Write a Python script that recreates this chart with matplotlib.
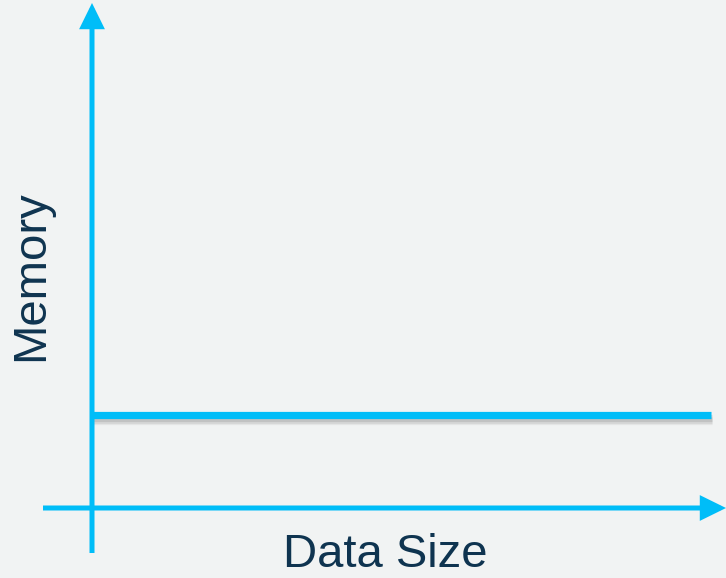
import matplotlib.pyplot as plt
import matplotlib.patheffects as pe

# constant memory regardless of data size
data_size = [0, 10]
memory = [1.5, 1.5]

x_label = 'Data Size'
y_label = 'Memory'

cyan = '#00bdf8'
bg = '#f1f3f3'
txt = '#0f3450'

fig = plt.figure(figsize=(7.26, 5.78), dpi=100, facecolor=bg)
ax = fig.add_axes([0, 0, 1, 1])
ax.set_facecolor(bg)

# origin sits at pixel (92, 508); 61.9 px per x unit, 62 px per y unit
sx, sy = 61.9, 62.0
ax.set_xlim(-92 / sx, 634 / sx)
ax.set_ylim(-70 / sy, 508 / sy)
ax.axis('off')

arrow = dict(arrowstyle='-|>,head_length=0.65,head_width=0.32', color=cyan,
             lw=3.6, mutation_scale=20, shrinkA=0, shrinkB=0,
             capstyle='butt', joinstyle='miter')
# y axis
ax.annotate('', xy=(0, 505 / sy), xytext=(0, -45 / sy), arrowprops=arrow)
# x axis
ax.annotate('', xy=(634 / sx, 0), xytext=(-49 / sx, 0), arrowprops=arrow)

# soft drop shadow under the line
shadow = [pe.SimpleLineShadow(offset=(0.5, -dy), shadow_color='#666666', alpha=a)
          for dy, a in [(4.5, 0.08), (3.5, 0.12), (2.5, 0.18)]]
ax.plot(data_size, memory, color=cyan, lw=5.2, solid_capstyle='butt',
        path_effects=shadow + [pe.Normal()])

fig.text(385 / 726, 1 - 555 / 578, x_label, ha='center', va='center',
         fontsize=34, color=txt, family='Liberation Sans')
fig.text(31 / 726, 1 - 276 / 578, y_label, ha='center', va='center', rotation=90,
         fontsize=34, color=txt, family='Liberation Sans')

fig.savefig('out.png', dpi=100, facecolor=bg)
